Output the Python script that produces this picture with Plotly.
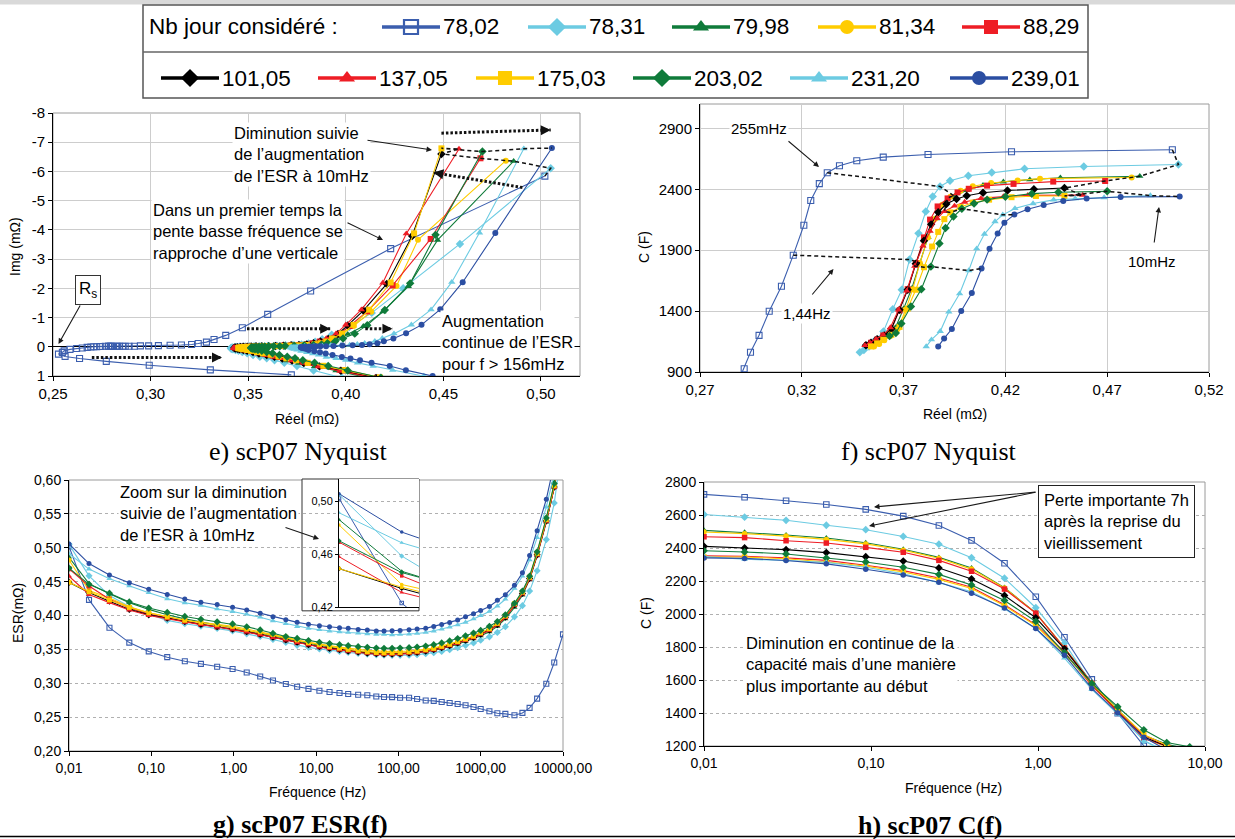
import plotly.graph_objects as go

W, H = 1235, 839

# ---------------------------------------------------------------- data
FREQ = [0.01, 0.0175, 0.031, 0.054, 0.093, 0.156, 0.255, 0.40, 0.63, 0.97,
        1.44, 2.1, 3.0, 4.3, 5.9, 8.1, 11, 14.6, 19.3, 24.6,
        32.5, 42, 54, 67, 84, 105, 135, 169, 215, 269,
        336, 420, 525, 655, 819, 1000, 1277, 1595, 1995, 2573,
        3215, 3930, 4850, 6270, 7830, 10000]

NB_JOUR = ["78,02", "78,31", "79,98", "81,34", "88,29", "101,05",
           "137,05", "175,03", "203,02", "231,20", "239,01"]

# ESR (mOhm) versus frequency
ESR_7802 = [0.502, 0.423, 0.382, 0.360, 0.347, 0.3385, 0.3325, 0.3286, 0.3244, 0.321,
            0.3158, 0.310, 0.304, 0.299, 0.2948, 0.2917, 0.289, 0.287, 0.2856, 0.2841,
            0.2831, 0.2822, 0.2805, 0.2797, 0.2795, 0.2785, 0.2785, 0.2768, 0.2745, 0.274,
            0.2724, 0.2709, 0.2694, 0.2675, 0.265, 0.2621, 0.2587, 0.2557, 0.2548, 0.2528,
            0.2562, 0.2636, 0.2773, 0.2993, 0.3306, 0.3721]
ESR_7831 = [0.505, 0.4585, 0.4294, 0.4133, 0.4018, 0.3928, 0.3879, 0.3843, 0.3809, 0.3773,
            0.3729, 0.3691, 0.3647, 0.3601, 0.356, 0.353, 0.3505, 0.3485, 0.347, 0.3455,
            0.344, 0.343, 0.342, 0.3415, 0.3412, 0.3412, 0.3415, 0.3422, 0.3435, 0.345,
            0.347, 0.3495, 0.3525, 0.356, 0.3595, 0.3635, 0.3685, 0.375, 0.3835, 0.398,
            0.4145, 0.436, 0.466, 0.512, 0.566, 0.66]
ESR_7998 = [0.486, 0.447, 0.432, 0.419, 0.409, 0.401, 0.395, 0.390, 0.386, 0.382,
            0.378, 0.374, 0.370, 0.366, 0.362, 0.359, 0.356, 0.353, 0.3505, 0.3485,
            0.347, 0.3455, 0.3445, 0.344, 0.3435, 0.3435, 0.344, 0.345, 0.3465, 0.3485,
            0.351, 0.354, 0.3575, 0.3615, 0.3655, 0.370, 0.376, 0.384, 0.395, 0.412,
            0.430, 0.453, 0.488, 0.538, 0.589, 0.68]
ESR_8134 = [0.482, 0.437, 0.426, 0.413, 0.404, 0.398, 0.393, 0.389, 0.3855, 0.382,
            0.378, 0.3745, 0.371, 0.367, 0.3635, 0.3605, 0.358, 0.3555, 0.3535, 0.3515,
            0.350, 0.3485, 0.3475, 0.347, 0.347, 0.347, 0.3475, 0.3485, 0.350, 0.352,
            0.3545, 0.3575, 0.361, 0.365, 0.369, 0.374, 0.380, 0.388, 0.399, 0.416,
            0.434, 0.457, 0.493, 0.543, 0.594, 0.685]
ESR_8829 = [0.469, 0.4435, 0.424, 0.411, 0.402, 0.3965, 0.3916, 0.3867, 0.383, 0.380,
            0.376, 0.372, 0.368, 0.364, 0.360, 0.357, 0.354, 0.352, 0.350, 0.348,
            0.3465, 0.345, 0.344, 0.3435, 0.3435, 0.344, 0.345, 0.346, 0.348, 0.350,
            0.353, 0.356, 0.360, 0.364, 0.368, 0.373, 0.379, 0.387, 0.398, 0.416,
            0.433, 0.455, 0.490, 0.540, 0.590, 0.68]
ESR_10105 = [0.449, 0.434, 0.421, 0.409, 0.401, 0.396, 0.391, 0.387, 0.3835, 0.380,
             0.376, 0.372, 0.368, 0.364, 0.3605, 0.357, 0.354, 0.3515, 0.3495, 0.3475,
             0.346, 0.3445, 0.3435, 0.343, 0.343, 0.3435, 0.3445, 0.3455, 0.3475, 0.3495,
             0.3525, 0.3555, 0.3595, 0.3635, 0.3675, 0.3725, 0.3785, 0.3865, 0.3975, 0.4155,
             0.4325, 0.4545, 0.4895, 0.5395, 0.5895, 0.68]
ESR_13705 = [0.458, 0.431, 0.419, 0.408, 0.400, 0.395, 0.390, 0.3865, 0.383, 0.3795,
             0.3755, 0.3715, 0.3675, 0.3635, 0.360, 0.3565, 0.3535, 0.351, 0.349, 0.347,
             0.3455, 0.344, 0.343, 0.3425, 0.3425, 0.343, 0.344, 0.345, 0.347, 0.349,
             0.352, 0.355, 0.359, 0.363, 0.367, 0.372, 0.378, 0.386, 0.397, 0.415,
             0.432, 0.454, 0.489, 0.539, 0.589, 0.68]
ESR_17503 = [0.449, 0.435, 0.423, 0.412, 0.404, 0.398, 0.393, 0.390, 0.387, 0.384,
             0.380, 0.376, 0.372, 0.368, 0.364, 0.360, 0.357, 0.354, 0.352, 0.350,
             0.348, 0.3465, 0.3455, 0.345, 0.345, 0.3455, 0.3465, 0.3475, 0.3495, 0.3515,
             0.3545, 0.3575, 0.3615, 0.3655, 0.3695, 0.3745, 0.3805, 0.3885, 0.3995, 0.4175,
             0.4345, 0.4565, 0.4915, 0.5415, 0.5915, 0.685]
ESR_20302 = [0.470, 0.446, 0.433, 0.420, 0.411, 0.4046, 0.3986, 0.3945, 0.3906, 0.3876,
             0.3834, 0.3787, 0.3736, 0.3689, 0.3662, 0.3631, 0.3605, 0.3585, 0.357, 0.3555,
             0.354, 0.353, 0.352, 0.3515, 0.3515, 0.352, 0.3525, 0.3535, 0.355, 0.357,
             0.3595, 0.3625, 0.366, 0.370, 0.374, 0.378, 0.384, 0.391, 0.401, 0.418,
             0.436, 0.458, 0.494, 0.544, 0.595, 0.69]
ESR_23120 = [0.4912, 0.4685, 0.4543, 0.4437, 0.4336, 0.4247, 0.4187, 0.4149, 0.4097, 0.4059,
             0.402, 0.3975, 0.3922, 0.388, 0.3837, 0.3811, 0.379, 0.377, 0.376, 0.375,
             0.374, 0.373, 0.372, 0.372, 0.3715, 0.372, 0.3725, 0.3735, 0.375, 0.377,
             0.380, 0.383, 0.386, 0.390, 0.395, 0.400, 0.406, 0.414, 0.424, 0.440,
             0.458, 0.482, 0.515, 0.560, 0.610, 0.70]
ESR_23901 = [0.5056, 0.4766, 0.4599, 0.4484, 0.4388, 0.4309, 0.4244, 0.4195, 0.4162, 0.4122,
             0.4083, 0.4035, 0.3983, 0.3937, 0.3899, 0.387, 0.3848, 0.3834, 0.3819, 0.381,
             0.3795, 0.3785, 0.377, 0.377, 0.3775, 0.378, 0.379, 0.380, 0.381, 0.3839,
             0.3868, 0.3897, 0.3932, 0.398, 0.4024, 0.4073, 0.4132, 0.4225, 0.4308, 0.4445,
             0.4631, 0.4885, 0.5252, 0.5716, 0.625, 0.72]

# Capacitance (F) versus frequency (low-frequency part only)
C_7802 = [2725, 2708, 2686, 2664, 2634, 2593, 2536, 2446, 2308, 2105, 1859, 1604, 1399, 1201, 1062, 927, 830]
C_7831 = [2603, 2587, 2568, 2538, 2511, 2470, 2423, 2341, 2217, 2038, 1823, 1575, 1416, 1232, 1160, 1110, 1080, 1062]
C_7998 = [2507, 2495, 2479, 2461, 2432, 2392, 2343, 2279, 2160, 2007, 1795, 1585, 1420, 1265, 1210, 1180, 1150, 1125]
C_8134 = [2497, 2487, 2472, 2452, 2425, 2387, 2338, 2272, 2158, 2005, 1795, 1580, 1410, 1250, 1195, 1160, 1130, 1110]
C_8829 = [2468, 2463, 2444, 2430, 2404, 2374, 2325, 2259, 2151, 2005, 1793, 1580, 1405, 1245, 1200, 1165, 1140, 1122]
C_10105 = [2410, 2400, 2390, 2372, 2347, 2321, 2279, 2212, 2112, 1977, 1789, 1575, 1410, 1255, 1200, 1170, 1140, 1120]
C_13705 = [2352, 2350, 2340, 2325, 2295, 2263, 2218, 2162, 2056, 1935, 1770, 1565, 1410, 1265, 1205, 1170, 1140, 1118]
C_17503 = [2345, 2345, 2335, 2315, 2290, 2255, 2210, 2155, 2050, 1930, 1760, 1575, 1420, 1270, 1205, 1165, 1135, 1110]
C_20302 = [2383, 2376, 2364, 2339, 2315, 2283, 2240, 2176, 2082, 1955, 1765, 1579, 1438, 1298, 1221, 1195]
C_23120 = [2348, 2332, 2324, 2313, 2283, 2243, 2190, 2135, 2032, 1912, 1733, 1543, 1393, 1234, 1165, 1109]
C_23901 = [2340, 2337, 2324, 2304, 2271, 2236, 2192, 2126, 2036, 1912, 1750, 1549, 1401, 1253, 1176, 1110]

# Imaginary part (mOhm) versus frequency (Nyquist)
IMG_7802 = [-5.84, -3.36, -1.91, -1.11, -0.65, -0.39, -0.25, -0.16, -0.11, -0.08,
            -0.06, -0.05, -0.04, -0.03, -0.03, -0.02, -0.02, -0.02, -0.02, -0.02,
            -0.02, -0.02, -0.02, -0.02, -0.02, -0.02, -0.02, -0.02, -0.01, -0.01,
            0.0, 0.0, 0.01, 0.02, 0.04, 0.06, 0.09, 0.14, 0.19, 0.25,
            0.33, 0.40, 0.50, 0.63, 0.79, 0.96]
IMG_7831 = [-6.11, -3.52, -2.00, -1.16, -0.68, -0.41, -0.26, -0.17, -0.11, -0.08,
            -0.06, -0.05, -0.04, -0.03, -0.02, -0.02, -0.015, -0.01, -0.005, 0.0,
            0.005, 0.015, 0.025, 0.035, 0.045, 0.056, 0.07, 0.084, 0.11, 0.14,
            0.18, 0.22, 0.28, 0.34, 0.39, 0.46, 0.55, 0.66, 0.81, 1.06,
            1.3, 1.6, 1.95, 2.5, 3.1, 3.9]
IMG_7998 = [-6.35, -3.65, -2.07, -1.20, -0.70, -0.43, -0.27, -0.17, -0.12, -0.08,
            -0.06, -0.05, -0.04, -0.03, -0.02, -0.02, -0.015, -0.01, -0.005, 0.0,
            0.005, 0.015, 0.025, 0.035, 0.045, 0.056, 0.07, 0.085, 0.11, 0.14,
            0.18, 0.22, 0.28, 0.34, 0.40, 0.47, 0.56, 0.67, 0.82, 1.07,
            1.31, 1.6, 1.96, 2.5, 3.1, 3.9]
IMG_8134 = [-6.37, -3.66, -2.08, -1.20, -0.71, -0.43, -0.27, -0.18, -0.12, -0.08,
            -0.06, -0.05, -0.04, -0.03, -0.02, -0.02, -0.015, -0.01, -0.005, 0.0,
            0.005, 0.015, 0.025, 0.035, 0.045, 0.055, 0.07, 0.083, 0.11, 0.14,
            0.18, 0.22, 0.27, 0.33, 0.39, 0.46, 0.55, 0.66, 0.80, 1.05,
            1.29, 1.58, 1.94, 2.5, 3.1, 3.9]
IMG_8829 = [-6.45, -3.69, -2.10, -1.21, -0.71, -0.43, -0.27, -0.18, -0.12, -0.08,
            -0.06, -0.05, -0.04, -0.03, -0.02, -0.02, -0.015, -0.01, -0.005, 0.0,
            0.005, 0.015, 0.025, 0.035, 0.045, 0.056, 0.07, 0.084, 0.11, 0.14,
            0.18, 0.22, 0.28, 0.34, 0.39, 0.46, 0.55, 0.66, 0.81, 1.06,
            1.3, 1.6, 1.95, 2.5, 3.1, 3.9]
IMG_10105 = [-6.60, -3.79, -2.15, -1.24, -0.73, -0.44, -0.27, -0.18, -0.12, -0.08,
             -0.06, -0.05, -0.04, -0.03, -0.02, -0.02, -0.015, -0.01, -0.005, 0.0,
             0.005, 0.015, 0.025, 0.035, 0.045, 0.057, 0.07, 0.085, 0.11, 0.14,
             0.18, 0.23, 0.28, 0.34, 0.40, 0.47, 0.56, 0.67, 0.82, 1.07,
             1.31, 1.61, 1.96, 2.5, 3.1, 3.9]
IMG_13705 = [-6.77, -3.87, -2.19, -1.27, -0.75, -0.45, -0.28, -0.18, -0.12, -0.08,
             -0.06, -0.05, -0.04, -0.03, -0.02, -0.02, -0.015, -0.01, -0.005, 0.0,
             0.005, 0.015, 0.025, 0.035, 0.045, 0.057, 0.07, 0.086, 0.11, 0.14,
             0.18, 0.23, 0.29, 0.35, 0.40, 0.47, 0.56, 0.68, 0.83, 1.08,
             1.32, 1.62, 1.97, 2.5, 3.1, 3.9]
IMG_17503 = [-6.79, -3.88, -2.20, -1.27, -0.75, -0.45, -0.28, -0.18, -0.12, -0.09,
             -0.06, -0.05, -0.04, -0.03, -0.02, -0.02, -0.015, -0.01, -0.005, 0.0,
             0.005, 0.015, 0.025, 0.035, 0.045, 0.055, 0.07, 0.083, 0.11, 0.14,
             0.18, 0.22, 0.27, 0.33, 0.39, 0.46, 0.55, 0.65, 0.80, 1.05,
             1.29, 1.58, 1.94, 2.5, 3.1, 3.9]
IMG_20302 = [-6.68, -3.83, -2.17, -1.26, -0.74, -0.45, -0.28, -0.18, -0.12, -0.08,
             -0.06, -0.05, -0.04, -0.03, -0.02, -0.02, -0.015, -0.01, -0.005, 0.0,
             0.005, 0.015, 0.025, 0.035, 0.045, 0.056, 0.07, 0.084, 0.11, 0.14,
             0.18, 0.22, 0.28, 0.34, 0.39, 0.46, 0.55, 0.66, 0.81, 1.06,
             1.3, 1.6, 1.95, 2.5, 3.1, 3.9]
IMG_23120 = [-6.78, -3.90, -2.21, -1.27, -0.75, -0.45, -0.29, -0.19, -0.12, -0.09,
             -0.06, -0.05, -0.04, -0.03, -0.02, -0.02, -0.015, -0.01, -0.005, 0.0,
             0.005, 0.01, 0.015, 0.02, 0.03, 0.04, 0.06, 0.08, 0.11, 0.15,
             0.19, 0.23, 0.28, 0.35, 0.40, 0.46, 0.55, 0.66, 0.80, 1.0,
             1.25, 1.55, 1.9, 2.4, 3.0, 3.8]
IMG_23901 = [-6.80, -3.89, -2.21, -1.28, -0.75, -0.46, -0.28, -0.19, -0.12, -0.09,
             -0.06, -0.05, -0.04, -0.03, -0.02, -0.02, -0.015, -0.01, -0.005, 0.0,
             0.005, 0.01, 0.015, 0.02, 0.03, 0.04, 0.06, 0.08, 0.11, 0.15,
             0.19, 0.23, 0.28, 0.35, 0.40, 0.46, 0.55, 0.66, 0.80, 1.0,
             1.25, 1.55, 1.9, 2.4, 3.0, 3.8]

ESR = [ESR_7802, ESR_7831, ESR_7998, ESR_8134, ESR_8829, ESR_10105,
       ESR_13705, ESR_17503, ESR_20302, ESR_23120, ESR_23901]
CAP = [C_7802, C_7831, C_7998, C_8134, C_8829, C_10105,
       C_13705, C_17503, C_20302, C_23120, C_23901]
IMG = [IMG_7802, IMG_7831, IMG_7998, IMG_8134, IMG_8829, IMG_10105,
       IMG_13705, IMG_17503, IMG_20302, IMG_23120, IMG_23901]

# tick values
TICK_E_X = [0.25, 0.30, 0.35, 0.40, 0.45, 0.50]
TICK_E_Y = [-8, -7, -6, -5, -4, -3, -2, -1, 0, 1]
TICK_F_X = [0.27, 0.32, 0.37, 0.42, 0.47, 0.52]
TICK_F_Y = [900, 1400, 1900, 2400, 2900]
TICK_G_X = [0.01, 0.1, 1, 10, 100, 1000, 10000]
TICK_G_Y = [0.20, 0.25, 0.30, 0.35, 0.40, 0.45, 0.50, 0.55, 0.60]
TICK_H_X = [0.01, 0.1, 1, 10]
TICK_H_Y = [1200, 1400, 1600, 1800, 2000, 2200, 2400, 2600, 2800]
TICK_INSET_Y = [0.42, 0.46, 0.50]
ISO_F_INDEX = [0, 6, 10]   # 10 mHz, 255 mHz, 1,44 Hz

# ---------------------------------------------------------------- styles
DBLUE = "#2b4ea2"
BLUE2 = "#3b5eae"
CYAN = "#6ccbe2"
GREEN = "#0f7b3a"
YELLOW = "#ffcc00"
RED = "#ee1d25"
BLACK = "#000000"
STYLE = [(BLUE2, "square-open"), (CYAN, "diamond"), (GREEN, "triangle-up"),
         (YELLOW, "circle"), (RED, "square"), (BLACK, "diamond"),
         (RED, "triangle-up"), (YELLOW, "square"), (GREEN, "diamond"),
         (CYAN, "triangle-up"), (DBLUE, "circle")]

SANS = "Liberation Sans, Arial, sans-serif"
SERIF = "Liberation Serif, Times New Roman, serif"


def px(x):
    return x / W


def py(y):
    return 1 - y / H


def fmt(v, nd):
    return f"{v:.{nd}f}".replace(".", ",")


fig = go.Figure()


def add_series(xs, ys, xa, ya, color, symbol, msize, lw=1.1):
    open_sym = symbol.endswith("open")
    sz = msize + (0.5 if symbol.startswith(("diamond", "triangle")) else 0)
    fig.add_trace(go.Scatter(
        x=xs, y=ys, xaxis=xa, yaxis=ya, mode="lines+markers",
        line=dict(color=color, width=lw),
        marker=dict(symbol=symbol, size=sz, color=color,
                    line=dict(width=1.1 if open_sym else 0, color=color)),
        showlegend=False, hoverinfo="skip"))


# panel e : Nyquist
for i in range(len(ESR)):
    c, s = STYLE[i]
    add_series(ESR[i], IMG[i], "x", "y", c, s, 6)
fig.add_trace(go.Scatter(x=[e[0] for e in ESR], y=[m[0] for m in IMG], xaxis="x", yaxis="y",
                         mode="lines", line=dict(color="#111", width=1.5, dash="4px,3px"),
                         showlegend=False, hoverinfo="skip"))

# panel f : C versus real part
for i in range(len(ESR)):
    c, s = STYLE[i]
    add_series(ESR[i][:len(CAP[i])], CAP[i], "x2", "y2", c, s, 6)
for k in ISO_F_INDEX:
    fig.add_trace(go.Scatter(x=[e[k] for e in ESR], y=[cc[k] for cc in CAP], xaxis="x2", yaxis="y2",
                             mode="lines", line=dict(color="#111", width=1.5, dash="4px,3px"),
                             showlegend=False, hoverinfo="skip"))

# panel g : ESR(f)
for i in range(len(ESR)):
    c, s = STYLE[i]
    add_series(FREQ, ESR[i], "x3", "y3", c, s, 5)

# panel h : C(f)
for i in range(len(CAP)):
    c, s = STYLE[i]
    add_series(FREQ[:len(CAP[i])], CAP[i], "x4", "y4", c, s, 5.5)

# inset in panel g
for i in range(len(ESR)):
    c, s = STYLE[i]
    add_series(FREQ[:3], ESR[i][:3], "x5", "y5", c, s, 3.5, lw=1)

# manual legend
LEG_ROW_Y = [27, 78]
LEG_ROW1_X = [382, 528, 672, 818, 962]
LEG_ROW2_X = [161, 318, 476, 633, 790, 950]
LEG_LEN = 58
leg_pos = [(x, LEG_ROW_Y[0]) for x in LEG_ROW1_X] + [(x, LEG_ROW_Y[1]) for x in LEG_ROW2_X]
legend_notes = []
for i, (x0, y0) in enumerate(leg_pos):
    c, s = STYLE[i]
    fig.add_trace(go.Scatter(x=[x0, x0 + LEG_LEN], y=[y0, y0], xaxis="x6", yaxis="y6", mode="lines",
                             line=dict(color=c, width=3.5), showlegend=False, hoverinfo="skip"))
    fig.add_trace(go.Scatter(x=[x0 + LEG_LEN / 2], y=[y0], xaxis="x6", yaxis="y6", mode="markers",
                             marker=dict(symbol=s, size=14, color=c,
                                         line=dict(width=2.2 if s.endswith("open") else 0, color=c)),
                             showlegend=False, hoverinfo="skip"))
    legend_notes.append(dict(text=NB_JOUR[i], x=x0 + LEG_LEN + 1, y=y0, xref="x6", yref="y6",
                             xanchor="left", yanchor="middle", showarrow=False,
                             font=dict(family=SANS, size=22.5, color="black")))
legend_notes.append(dict(text="Nb jour considéré :", x=147, y=LEG_ROW_Y[0], xref="x6", yref="y6",
                         xanchor="left", yanchor="middle", showarrow=False,
                         font=dict(family=SANS, size=22.5, color="black")))

# ---------------------------------------------------------------- axes
tickfont = dict(family=SANS, size=15, color="black")
tickfont_s = dict(family=SANS, size=14, color="black")
grid_solid = dict(showgrid=True, gridcolor="#cdcdcd", gridwidth=1.3)
grid_dash = dict(showgrid=True, gridcolor="#b0b0b0", gridwidth=1, griddash="3px,3px")
axline = dict(showline=True, linecolor="black", linewidth=1, ticks="outside", ticklen=4,
              tickcolor="black", zeroline=False, automargin=False)

layout = dict(
    template="none",
    font=dict(family=SANS, size=14, color="black"),
    width=W, height=H, autosize=False,
    margin=dict(l=0, r=0, t=0, b=0, pad=0, autoexpand=False),
    paper_bgcolor="white", plot_bgcolor="white", hovermode=False, showlegend=False,
    xaxis=dict(domain=[px(53), px(580)], range=[0.25, 0.52], anchor="y",
               tickvals=TICK_E_X, ticktext=[fmt(v, 2) for v in TICK_E_X], tickfont=tickfont,
               **grid_solid, **axline),
    yaxis=dict(domain=[py(376), py(113)], range=[1, -8], anchor="x",
               tickvals=TICK_E_Y, ticktext=[str(v) for v in TICK_E_Y], tickfont=tickfont,
               **grid_solid, **{k: v for k, v in axline.items() if k != "zeroline"},
               zeroline=True, zerolinecolor="black", zerolinewidth=1.2),
    xaxis2=dict(domain=[px(700), px(1209)], range=[0.27, 0.52], anchor="y2",
                tickvals=TICK_F_X, ticktext=[fmt(v, 2) for v in TICK_F_X], tickfont=tickfont,
                **grid_solid, **axline),
    yaxis2=dict(domain=[py(372), py(104)], range=[900, 3100], anchor="x2",
                tickvals=TICK_F_Y, ticktext=[str(v) for v in TICK_F_Y], tickfont=tickfont,
                **grid_solid, **axline),
    xaxis3=dict(domain=[px(69), px(563)], type="log", range=[-2, 4], anchor="y3",
                tickvals=TICK_G_X, ticktext=[fmt(v, 2) for v in TICK_G_X], tickfont=tickfont_s,
                showgrid=False, **axline),
    yaxis3=dict(domain=[py(751), py(480)], range=[0.2, 0.6], anchor="x3",
                tickvals=TICK_G_Y, ticktext=[fmt(v, 2) for v in TICK_G_Y], tickfont=tickfont_s,
                **grid_dash, **axline),
    xaxis4=dict(domain=[px(704), px(1205)], type="log", range=[-2, 1], anchor="y4",
                tickvals=TICK_H_X, ticktext=[fmt(v, 2) for v in TICK_H_X], tickfont=tickfont_s,
                showgrid=False, **axline),
    yaxis4=dict(domain=[py(746), py(482)], range=[1200, 2800], anchor="x4",
                tickvals=TICK_H_Y, ticktext=[str(v) for v in TICK_H_Y], tickfont=tickfont_s,
                **grid_dash, **axline),
    xaxis5=dict(domain=[px(339), px(419)], type="log", range=[-2, -1.69], anchor="y5",
                showticklabels=False, ticks="", showgrid=False, zeroline=False, automargin=False,
                showline=True, linecolor="black", linewidth=1),
    yaxis5=dict(domain=[py(607), py(479)], range=[0.42, 0.5167], anchor="x5",
                tickvals=TICK_INSET_Y, ticktext=[fmt(v, 2) for v in TICK_INSET_Y],
                tickfont=dict(family=SANS, size=11, color="black"), automargin=False,
                showgrid=True, gridcolor="#b0b0b0", griddash="3px,3px", zeroline=False,
                showline=True, linecolor="black", linewidth=1, ticks="outside", ticklen=3,
                tickcolor="black"),
    xaxis6=dict(domain=[px(143), px(1088)], range=[143, 1088], visible=False, anchor="y6",
                automargin=False),
    yaxis6=dict(domain=[py(98), py(5)], range=[98, 5], visible=False, anchor="x6",
                automargin=False),
)
fig.update_layout(**layout)

# ---------------------------------------------------------------- shapes
shapes = []
shapes.append(dict(type="rect", xref="paper", yref="paper", x0=0, x1=1, y0=py(4.5), y1=1,
                   fillcolor="#d9d9d9", line=dict(width=0), layer="below"))
shapes.append(dict(type="line", xref="paper", yref="paper", x0=0, x1=1, y0=py(836.5), y1=py(836.5),
                   line=dict(color="black", width=1.5)))
shapes.append(dict(type="rect", xref="paper", yref="paper", x0=px(143), x1=px(1088), y0=py(98), y1=py(5),
                   line=dict(color="#555", width=1.5), fillcolor="rgba(0,0,0,0)"))
shapes.append(dict(type="line", xref="paper", yref="paper", x0=px(143), x1=px(1088), y0=py(52), y1=py(52),
                   line=dict(color="#666", width=1.5)))
for xa, ya in (("x", "y"), ("x2", "y2"), ("x3", "y3"), ("x4", "y4")):
    shapes.append(dict(type="rect", xref=xa + " domain", yref=ya + " domain", x0=0, x1=1, y0=0, y1=1,
                       line=dict(color="#9a9a9a", width=1), layer="below"))
shapes.append(dict(type="rect", xref="x5 domain", yref="y5 domain", x0=-0.4625, x1=1.0, y0=-0.03, y1=1.0,
                   fillcolor="white", line=dict(color="#333", width=1), layer="below"))
DOTTED = [((0.449, -7.31), (0.505, -7.42)),
          ((0.4905, -5.45), (0.4449, -5.96)),
          ((0.3494, -0.62), (0.392, -0.62)),
          ((0.410, -0.62), (0.4239, -0.62)),
          ((0.2699, 0.37), (0.3366, 0.37))]
for (x0, y0), (x1, y1) in DOTTED:
    shapes.append(dict(type="line", xref="x", yref="y", x0=x0, y0=y0, x1=x1, y1=y1,
                       line=dict(color="#111", width=3, dash="2.5px,2px")))
fig.update_layout(shapes=shapes)

# ---------------------------------------------------------------- annotations
notes = []


def note(text, x, y, size=16.5, xanchor="center", yanchor="middle", angle=0, family=SANS, **kw):
    notes.append(dict(text=text, x=px(x), y=py(y), xref="paper", yref="paper", showarrow=False,
                      xanchor=xanchor, yanchor=yanchor, textangle=angle, align="left",
                      font=dict(family=family, size=size, color="black"), **kw))


def arrow(hx, hy, tx, ty, width=1.1):
    notes.append(dict(text="", x=px(hx), y=py(hy), xref="paper", yref="paper",
                      ax=tx - hx, ay=ty - hy, showarrow=True, arrowhead=2, arrowsize=1,
                      arrowwidth=width, arrowcolor="#1a1a1a"))


note("e) scP07 Nyquist", 298, 451, size=26, family=SERIF)
note("f) scP07 Nyquist", 929, 451, size=26, family=SERIF)
note("<b>g) scP07 ESR(f)</b>", 300, 824, size=26, family=SERIF)
note("<b>h) scP07 C(f)</b>", 930, 825, size=26, family=SERIF)
note("Img (mΩ)", 15, 247, size=14, angle=-90)
note("Réel (mΩ)", 307, 419, size=14)
note("C (F)", 644, 247, size=14, angle=-90)
note("Réel (mΩ)", 955, 414, size=14)
note("ESR(mΩ)", 18, 613, size=14, angle=-90)
note("Fréquence (Hz)", 318, 792, size=14)
note("C (F)", 646, 613, size=14, angle=-90)
note("Fréquence (Hz)", 953, 788, size=14)

note("Diminution suivie<br>de l’augmentation<br>de l’ESR à 10mHz", 232, 155, xanchor="left",
     bgcolor="white", borderpad=1)
note("Dans un premier temps la<br>pente basse fréquence se<br>rapproche d’une verticale", 151, 231,
     xanchor="left", bgcolor="white", borderpad=1)
note("R<sub>s</sub>", 88, 290, size=17, bgcolor="white", bordercolor="#333", borderwidth=1, borderpad=3)
note("Augmentation<br>continue de l’ESR<br>pour f &gt; 156mHz", 440, 342, xanchor="left",
     bgcolor="white", borderpad=1)
arrow(432, 150, 366, 140)
arrow(383, 240, 346, 222)
arrow(58.5, 344, 81, 304)
for (x0, y0), (x1, y1) in DOTTED:
    dxp = (x1 - x0) * 1952
    dyp = (y1 - y0) * 29.2
    n = (dxp ** 2 + dyp ** 2) ** 0.5
    notes.append(dict(text="", x=x1, y=y1, xref="x", yref="y", ax=-10 * dxp / n, ay=-10 * dyp / n,
                      showarrow=True, arrowhead=2, arrowsize=1, arrowwidth=2, arrowcolor="#111"))

note("255mHz", 759, 128, size=15, bgcolor="white", borderpad=1)
note("1,44Hz", 807, 313, size=15, bgcolor="white", borderpad=1)
note("10mHz", 1152, 261, size=15, bgcolor="white", borderpad=1)
arrow(819, 167, 787, 140)
arrow(833.5, 269, 811, 296)
arrow(1159, 207, 1154, 244)

note("Zoom sur la diminution<br>suivie de l’augmentation<br>de l’ESR à 10mHz", 118, 513,
     xanchor="left", bgcolor="white", borderpad=1)
arrow(319, 539, 284, 527)

note("Perte importante 7h<br>après la reprise du<br>vieillissement", 1038, 521, xanchor="left",
     bgcolor="white", bordercolor="#222", borderwidth=1, borderpad=5)
note("Diminution en continue de la<br>capacité mais d’une manière<br>plus importante au début", 744, 664,
     xanchor="left", bgcolor="white", borderpad=1)
arrow(874, 507, 1037, 492)
arrow(869, 526, 1037, 492)

fig.update_layout(annotations=notes + legend_notes)

fig.write_html("out.html", config={"displayModeBar": False, "responsive": False},
               post_script="document.body.style.margin='0px';document.body.style.overflow='hidden';")
